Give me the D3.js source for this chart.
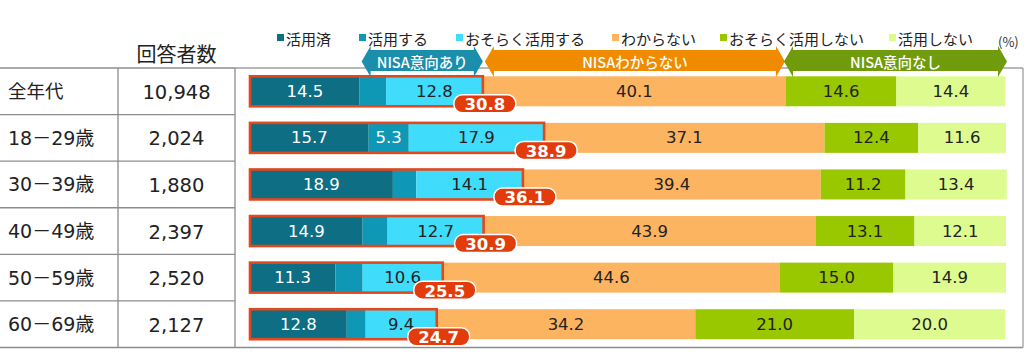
<!DOCTYPE html>
<html><head><meta charset="utf-8">
<script src="https://cdn.jsdelivr.net/npm/d3@7/dist/d3.min.js"></script>
<style>
html,body{margin:0;padding:0;background:#fff;}
svg{display:block;font-family:"Noto Sans CJK JP","Noto Sans",sans-serif;}
.num{font-family:"DejaVu Sans","Noto Sans CJK JP",sans-serif;}
</style></head>
<body><svg id="c" width="1031" height="359"></svg>
<script>
const rows = ["全年代","18－29歳","30－39歳","40－49歳","50－59歳","60－69歳"];
const respondents = ["10,948","2,024","1,880","2,397","2,520","2,127"];
const seriesNames = ["活用済","活用する","おそらく活用する","わからない","おそらく活用しない","活用しない"];
const used      = [14.5,15.7,18.9,14.9,11.3,12.8];
const willUse   = [3.5,5.3,3.1,3.3,3.6,2.5];
const maybeUse  = [12.8,17.9,14.1,12.7,10.6,9.4];
const unknown   = [40.1,37.1,39.4,43.9,44.6,34.2];
const maybeNot  = [14.6,12.4,11.2,13.1,15.0,21.0];
const notUse    = [14.4,11.6,13.4,12.1,14.9,20.0];
const intentTotals = [30.8,38.9,36.1,30.9,25.5,24.7];
const groupLabels = ["NISA意向あり","NISAわからない","NISA意向なし"];
const headerLabel = "回答者数";
const unitLabel = "(%)";

const seriesValues = [used, willUse, maybeUse, unknown, maybeNot, notUse];
const colors = ["#0e6f84","#0f98b6","#40dcfb","#fdb461","#99c700","#ddfb8f"];
const textColors = ["#fff","#fff","#222","#222","#222","#222"];

const svg = d3.select("#c");
const x = d3.scaleLinear().domain([0,100]).range([250,1006]);
const topY = 68, bottomY = 347.5;
const y = d3.scalePoint().domain(rows).range([topY,bottomY]).padding(0.5);
const step = y.step();
const barH = 30;

// table lines
const lineCol = "#8c8c8c";
const g0 = svg.append("g");
for (let i=0;i<=rows.length;i++){
  const yy = topY + i*step;
  g0.append("line").attr("x1",0).attr("x2", i===rows.length ? 1023 : 235)
    .attr("y1",yy).attr("y2",yy).attr("stroke",lineCol).attr("stroke-width",1.3);
}
g0.append("line").attr("x1",235).attr("x2",1023).attr("y1",topY).attr("y2",topY).attr("stroke","#a0a0a0").attr("stroke-width",1.3);
[118,235].forEach(xx=>g0.append("line").attr("x1",xx).attr("x2",xx).attr("y1",topY).attr("y2",bottomY).attr("stroke",lineCol).attr("stroke-width",1.3));
g0.append("line").attr("x1",1023).attr("x2",1023).attr("y1",topY).attr("y2",bottomY).attr("stroke","#a0a0a0").attr("stroke-width",1.3);

// header
svg.append("text").attr("x",176.5).attr("y",53).attr("text-anchor","middle").attr("dominant-baseline","central")
  .attr("font-size",20).attr("fill","#222").text(headerLabel);

// table text
rows.forEach((r,i)=>{
  svg.append("text").attr("class","num").attr("x",8).attr("y",y(r)).attr("dominant-baseline","central").attr("font-size",i===0?18.5:19).attr("fill","#222").text(r);
  svg.append("text").attr("class","num").attr("x",176.5).attr("y",y(r)+1).attr("text-anchor","middle").attr("dominant-baseline","central").attr("font-size",19.5).attr("fill","#222").text(respondents[i]);
});

// bars
const gb = svg.append("g");
rows.forEach((r,i)=>{
  let cum = 0;
  const yc = y(r);
  seriesValues.forEach((vals,s)=>{
    const v = vals[i];
    gb.append("rect").attr("x",x(cum)).attr("y",yc-barH/2).attr("width",x(cum+v)-x(cum)).attr("height",barH).attr("fill",colors[s]);
    if (v >= 4) {
      gb.append("text").attr("class","num").attr("x",(x(cum)+x(cum+v))/2).attr("y",yc).attr("text-anchor","middle").attr("dominant-baseline","central")
        .attr("font-size",16.5).attr("fill",textColors[s]).text(v.toFixed(1));
    }
    cum += v;
  });
  gb.append("rect").attr("x",x(0)).attr("y",yc-barH/2).attr("width",x(intentTotals[i])-x(0)).attr("height",barH)
    .attr("fill","none").attr("stroke","#e2481e").attr("stroke-width",2.6);
});
// badges
rows.forEach((r,i)=>{
  const yc = y(r)+barH/2-2.5;
  const cx = x(intentTotals[i]) + 2;
  const w = 62, h = 18;
  svg.append("rect").attr("x",cx-w/2).attr("y",yc-h/2).attr("width",w).attr("height",h).attr("rx",8.5)
    .attr("fill","#e23b0c").attr("stroke","#fff").attr("stroke-width",1.5);
  svg.append("text").attr("class","num").attr("x",cx).attr("y",yc+1).attr("text-anchor","middle").attr("dominant-baseline","central")
    .attr("font-size",16.5).attr("font-weight","bold").attr("fill","#fff").text(intentTotals[i].toFixed(1));
});

// legend
const legendX = [277,359,456,612,720,889];
seriesNames.forEach((n,s)=>{
  svg.append("rect").attr("x",legendX[s]).attr("y",34).attr("width",7).attr("height",7).attr("fill",colors[s]);
  svg.append("text").attr("x",legendX[s]+9).attr("y",38).attr("dominant-baseline","central").attr("font-size",15).attr("fill","#222").text(n);
});
svg.append("text").attr("x",998).attr("y",41).attr("dominant-baseline","central").attr("font-size",13).attr("fill","#333").text(unitLabel);

// group arrows
const r0 = 0;
const b1 = used[r0], b2 = intentTotals[r0], b3 = intentTotals[r0]+unknown[r0];
const arrows = [
  {x0:x(b1)+2, x1:x(b2), c:"#1a8eaa"},
  {x0:x(b2)+2, x1:x(b3)-1, c:"#f08b00"},
  {x0:x(b3)-2, x1:x(100)+1, c:"#6f9b0c"}
];
const bodyT = 50, bodyB = 71, headT = 46, headB = 77, tipY = 61.5, hl = 9;
arrows.forEach((a,k)=>{
  const p = d3.path();
  p.moveTo(a.x0, tipY);
  p.lineTo(a.x0+hl, headT);
  p.lineTo(a.x0+hl, bodyT);
  p.lineTo(a.x1-hl, bodyT);
  p.lineTo(a.x1-hl, headT);
  p.lineTo(a.x1, tipY);
  p.lineTo(a.x1-hl, headB);
  p.lineTo(a.x1-hl, bodyB);
  p.lineTo(a.x0+hl, bodyB);
  p.lineTo(a.x0+hl, headB);
  p.closePath();
  svg.append("path").attr("d",p.toString()).attr("fill",a.c);
  svg.append("text").attr("x",(a.x0+a.x1)/2).attr("y",tipY).attr("text-anchor","middle").attr("dominant-baseline","central")
    .attr("font-size",14.5).attr("font-weight",500).attr("fill","#fff").text(groupLabels[k]);
});
</script></body></html>
